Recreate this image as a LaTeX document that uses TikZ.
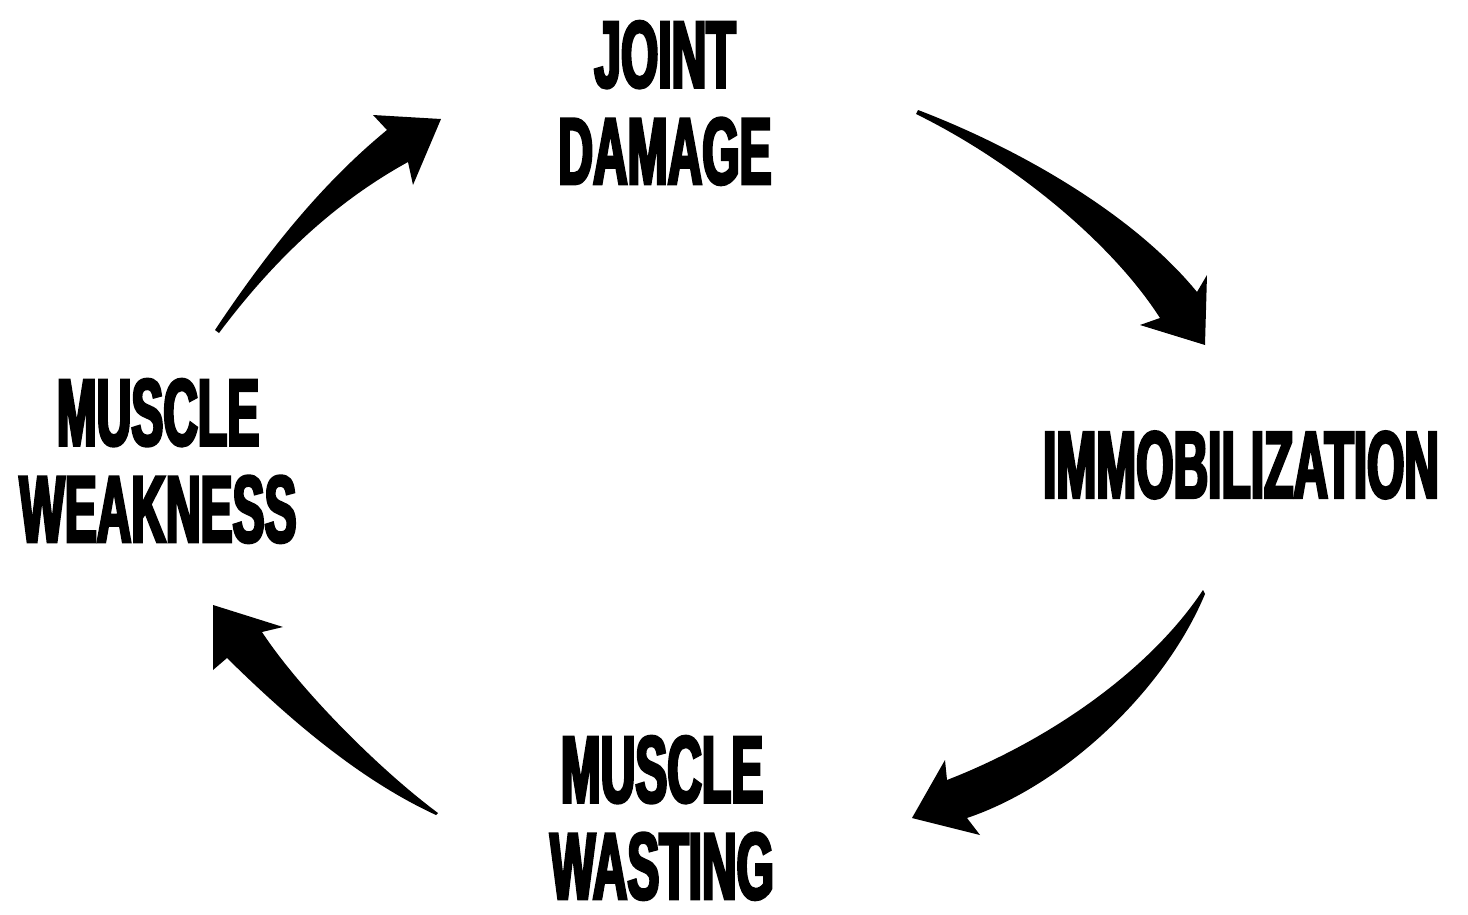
\documentclass[tikz,border=0pt]{standalone}
\usepackage{fontspec}
\newfontfamily\cyclefont{Liberation Sans}[UprightFont=* Bold, FakeStretch=0.505, FakeBold=3]

\tikzset{
	cyclabel/.style={font=\cyclefont\fontsize{27pt}{27.5pt}\selectfont, align=center, inner sep=0pt},
	cycarrow/.style={fill=black}
}

\begin{document}
\begin{tikzpicture}[x=0.01cm, y=-0.01cm]
	\useasboundingbox (0,0) rectangle (1468,915);

	\node[cyclabel] (jd)  at (665,103) {JOINT\\DAMAGE};
	\node[cyclabel] (imm) at (1241,465) {IMMOBILIZATION};
	\node[cyclabel] (ms)  at (662,818) {MUSCLE\\WASTING};
	\node[cyclabel] (mw)  at (158,461) {MUSCLE\\WEAKNESS};

	% tails and tips of the arrows
	\coordinate (t1) at (215,330);  \coordinate (h1) at (441,119);
	\coordinate (t2) at (918,110);  \coordinate (h2) at (1205,345);
	\coordinate (t3) at (1203,590); \coordinate (h3) at (912,818);
	\coordinate (t4) at (438,813);  \coordinate (h4) at (213,605);

	% weakness -> damage
	\fill[cycarrow] (t1) 
	  .. controls (265,255) and (320,185) .. (387,130) 
	  -- (373,115) 
	  -- (h1) 
	  -- (413,185) 
	  -- (408,162) 
	  .. controls (330,205) and (270,265) .. (219,333) 
	  -- cycle;

	% damage -> immobilization
	\fill[cycarrow] (t2) 
	  .. controls (1010,145) and (1130,210) .. (1197,292) 
	  -- (1207,275) 
	  -- (h2) 
	  -- (1140,325) 
	  -- (1160,318) 
	  .. controls (1110,240) and (1010,160) .. (916,114) 
	  -- cycle;

	% immobilization -> wasting
	\fill[cycarrow] (t3) 
	  .. controls (1150,670) and (1050,740) .. (947,780) 
	  -- (945,760) 
	  -- (h3) 
	  -- (980,835) 
	  -- (967,818) 
	  .. controls (1065,785) and (1165,690) .. (1205,594) 
	  -- cycle;

	% wasting -> weakness
	\fill[cycarrow] (t4) 
	  .. controls (380,770) and (300,690) .. (262,632) 
	  -- (283,627) 
	  -- (h4) 
	  -- (213,670) 
	  -- (227,658) 
	  .. controls (290,720) and (360,780) .. (436,815) 
	  -- cycle;
\end{tikzpicture}
\end{document}
